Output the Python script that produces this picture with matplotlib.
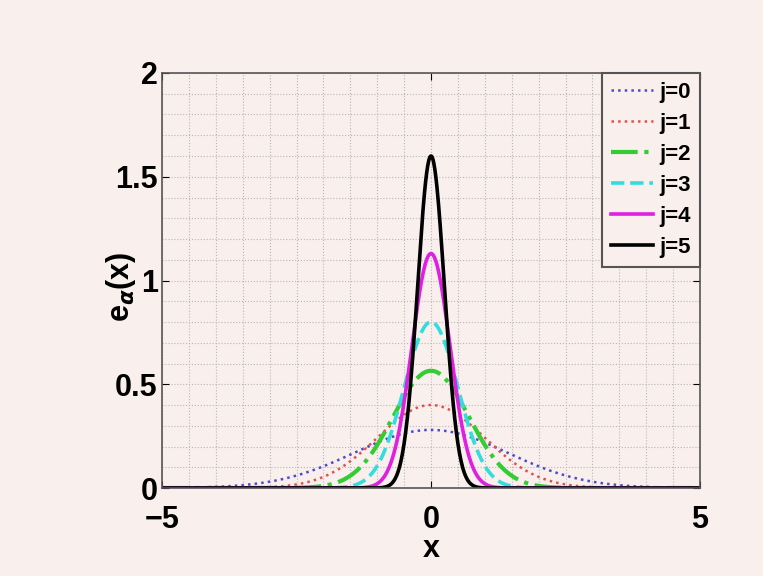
import matplotlib.pyplot as plt
import numpy as np
from matplotlib.ticker import MultipleLocator

# peak heights, one Gaussian per level j
levels = [0, 1, 2, 3, 4, 5]
peaks = [0.28, 0.40, 0.565, 0.80, 1.13, 1.60]
labels = [f"j={j}" for j in levels]
colors = ["#4a4ad0", "#e05050", "#33cc33", "#33dddd", "#e020e0", "#000000"]
styles = [":", ":", "-.", "--", "-", "-"]
widths = [1.8, 1.8, 3.0, 2.6, 2.6, 2.6]

x_ticks = [-5, 0, 5]
y_ticks = [0, 0.5, 1, 1.5, 2]
y_ticklabels = ["0", "0.5", "1", "1.5", "2"]

bg = "#f9efed"
plt.rcParams["font.family"] = ["Liberation Sans", "DejaVu Sans"]
plt.rcParams["font.weight"] = "bold"

fig = plt.figure(figsize=(7.63, 5.76), dpi=100, facecolor=bg)
ax = fig.add_axes([162 / 763, 1 - 488 / 576, 538 / 763, 415 / 576])
ax.set_facecolor(bg)

x = np.linspace(-5, 5, 1001)
for peak, lab, c, ls, lw in zip(peaks, labels, colors, styles, widths):
    # normalised Gaussian with the observed peak height: a = pi * peak^2
    a = np.pi * peak ** 2
    ax.plot(x, peak * np.exp(-a * x ** 2), color=c, linestyle=ls, linewidth=lw, label=lab)

ax.set_xlim(-5, 5)
ax.set_ylim(0, 2)
ax.set_xticks(x_ticks)
ax.set_yticks(y_ticks)
ax.set_yticklabels(y_ticklabels)
ax.xaxis.set_minor_locator(MultipleLocator(0.5))
ax.yaxis.set_minor_locator(MultipleLocator(0.1))
ax.grid(True, which="both", linestyle=":", color="#b8b8b8", linewidth=0.8)
ax.tick_params(which="both", direction="in", top=True, right=True, labelsize=22)
ax.tick_params(axis="x", pad=12)
ax.tick_params(axis="y", pad=3)
ax.tick_params(which="major", length=5)
ax.tick_params(which="minor", length=0)
for lbl in ax.get_xticklabels() + ax.get_yticklabels():
    lbl.set_fontweight("bold")
for s in ax.spines.values():
    s.set_color("#555555")
    s.set_linewidth(1.2)

ax.set_xlabel("x", fontsize=22, fontweight="bold")
ax.xaxis.set_label_coords(0.5, (488 - 534) / 415)
ax.set_ylabel(r"e$_{\alpha}$(x)", fontsize=22, fontweight="bold")
ax.yaxis.set_label_coords((138 - 162) / 538, (488 - 287) / 415)

leg = ax.legend(loc="upper right", fontsize=16, handlelength=1.9, handletextpad=0.3,
                labelspacing=0.45, borderaxespad=0.0, fancybox=False,
                framealpha=1, borderpad=0.4)
leg.get_frame().set_edgecolor("#555555")
leg.get_frame().set_linewidth(1.5)
leg.get_frame().set_facecolor(bg)
for t in leg.get_texts():
    t.set_fontweight("bold")

fig.savefig("out.png", dpi=100, facecolor=bg)
